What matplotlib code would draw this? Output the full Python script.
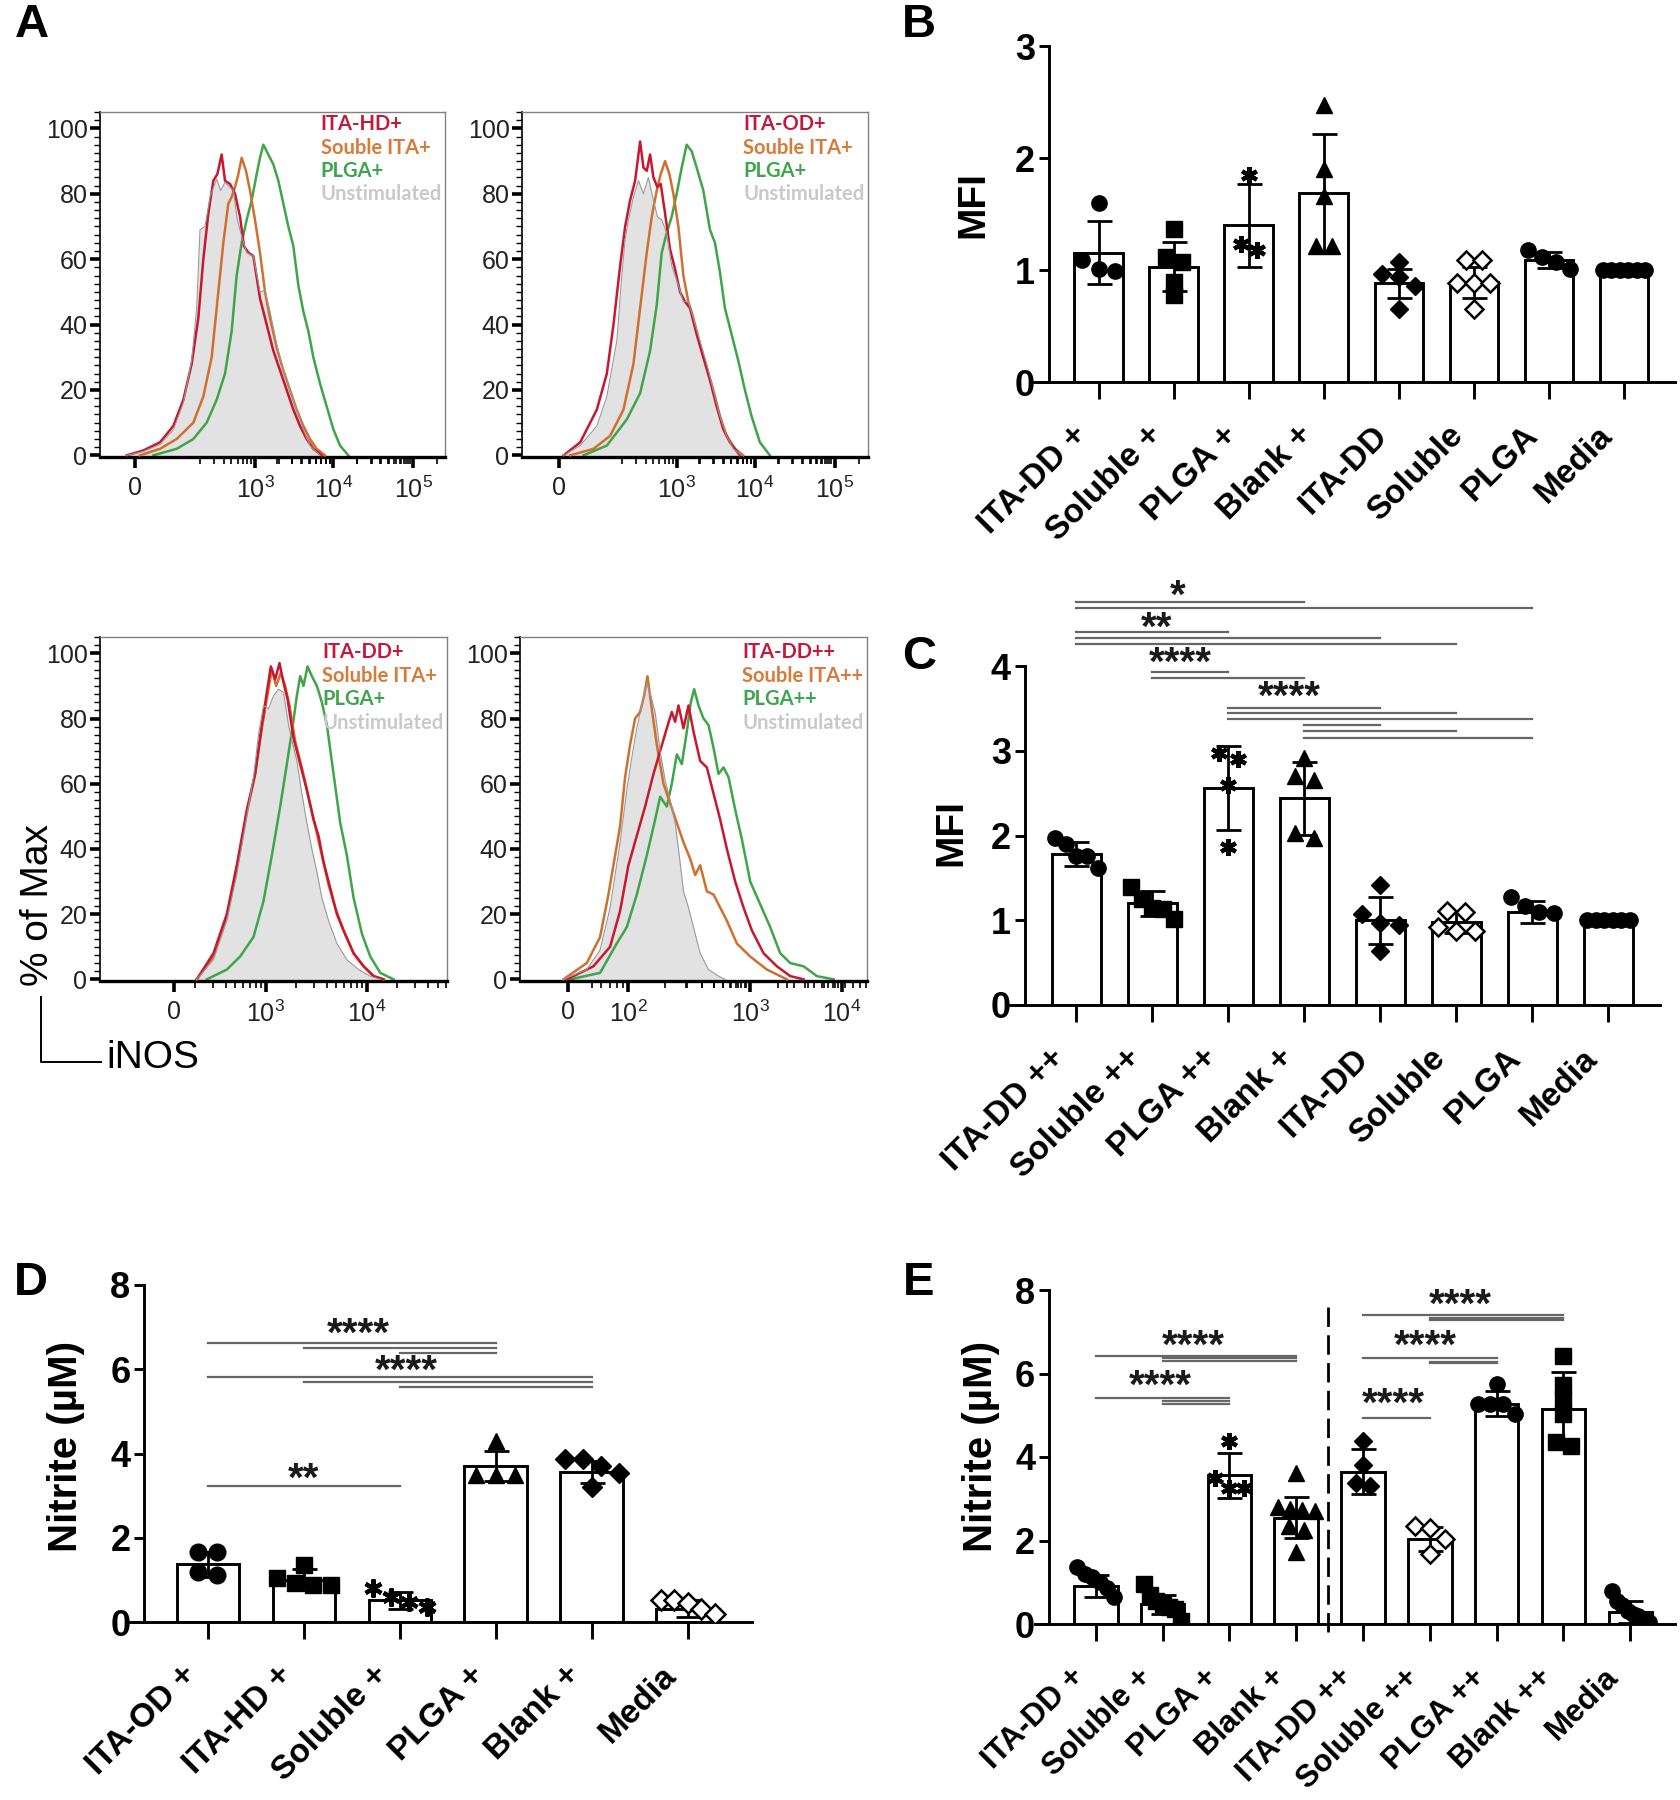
import numpy as np
import matplotlib
matplotlib.use('Agg')
import matplotlib.pyplot as plt
from matplotlib.lines import Line2D
from matplotlib.ticker import FixedLocator, MultipleLocator
from matplotlib.transforms import ScaledTranslation

plt.rcParams['font.family'] = ['Liberation Sans', 'DejaVu Sans']
plt.rcParams['mathtext.fontset'] = 'custom'
plt.rcParams['mathtext.rm'] = 'Liberation Sans'
plt.rcParams['mathtext.it'] = 'Liberation Sans:italic'
plt.rcParams['mathtext.bf'] = 'Liberation Sans:bold'

# ---------------- Panel A : iNOS histograms (x = display channel, y = % of max)
a1_labels = ['ITA-HD+', 'Souble ITA+', 'PLGA+', 'Unstimulated']
a1_ticks = [405, 765, 1000, 1240]
a1_ticklabels = ['0', '$10^3$', '$10^4$', '$10^5$']
a1_ita_ch = [380, 430, 480, 520, 550, 575, 595, 610, 625, 640, 652, 665, 675, 690, 705, 720, 732, 745, 760, 780, 800, 820, 840, 860, 880, 900, 920, 940, 965]
a1_ita_pct = [0, 1.5, 4, 9, 17, 28, 42, 60, 74, 84, 86, 92, 84, 83, 80, 73, 64, 62, 61, 48, 40, 32, 26, 20, 14, 9, 5, 2, 0]
a1_sol_ch = [420, 480, 530, 580, 610, 635, 655, 670, 685, 695, 705, 715, 725, 738, 750, 765, 780, 795, 810, 830, 850, 870, 890, 910, 930, 950, 975]
a1_sol_pct = [0, 2, 5, 10, 18, 30, 50, 65, 77, 79, 82, 86, 91, 87, 81, 72, 62, 50, 42, 33, 26, 20, 14, 9, 5, 2, 0]
a1_plga_ch = [460, 530, 580, 620, 650, 675, 695, 710, 725, 740, 755, 770, 780, 790, 805, 820, 835, 850, 865, 880, 895, 910, 925, 940, 960, 980, 1000, 1020, 1045]
a1_plga_pct = [0, 2, 5, 10, 17, 25, 38, 55, 65, 72, 78, 86, 91, 95, 92, 89, 84, 77, 70, 64, 52, 44, 38, 30, 22, 15, 8, 3, 0]
a1_unst_ch = [380, 430, 480, 520, 550, 575, 590, 600, 615, 630, 650, 662, 675, 690, 700, 712, 725, 740, 760, 780, 795, 810, 830, 850, 870, 890, 910, 930, 960]
a1_unst_pct = [0, 1.2, 3.3, 7.8, 16, 29, 45, 69, 70, 79, 84.5, 81, 83.5, 82, 81, 72, 67, 62, 61, 50, 50.5, 44, 34, 26, 20, 14, 8, 3, 0]

a2_labels = ['ITA-OD+', 'Souble ITA+', 'PLGA+', 'Unstimulated']
a2_ticks = [415, 770, 1005, 1245]
a2_ticklabels = ['0', '$10^3$', '$10^4$', '$10^5$']
a2_ita_ch = [430, 480, 530, 560, 580, 600, 615, 630, 645, 660, 670, 680, 690, 700, 712, 722, 735, 750, 765, 780, 795, 810, 830, 850, 870, 890, 910, 930, 960]
a2_ita_pct = [0, 4, 14, 25, 40, 58, 70, 78, 84, 96, 88, 87, 92, 85, 82, 83, 74, 63, 57, 50, 47, 45, 37, 30, 23, 15, 8, 4, 0]
a2_sol_ch = [450, 520, 570, 610, 640, 660, 680, 695, 710, 722, 735, 748, 760, 775, 790, 805, 820, 840, 860, 880, 900, 920, 945, 970]
a2_sol_pct = [0, 2, 6, 14, 28, 45, 62, 73, 81, 86, 90, 86, 80, 70, 55, 47, 42, 34, 27, 20, 12, 6, 2, 0]
a2_plga_ch = [490, 560, 620, 660, 690, 710, 725, 740, 755, 770, 785, 800, 815, 830, 850, 870, 885, 900, 915, 935, 955, 975, 995, 1020, 1050]
a2_plga_pct = [0, 3, 11, 19, 32, 46, 62, 68, 73, 80, 88, 95, 93, 88, 81, 69, 65, 56, 45, 37, 29, 20, 12, 4, 0]
a2_unst_ch = [430, 480, 530, 560, 590, 605, 615, 625, 640, 655, 670, 685, 700, 712, 725, 740, 755, 775, 790, 805, 820, 840, 860, 880, 900, 920, 940, 965]
a2_unst_pct = [0, 3, 9, 18, 35, 55, 66, 72, 79, 84, 80, 85, 78, 73, 72, 68, 58, 52, 47, 47, 42, 35, 28, 20, 12, 6, 2, 0]

a3_labels = ['ITA-DD+', 'Soluble ITA+', 'PLGA+', 'Unstimulated']
a3_ticks = [522, 797, 1100]
a3_ticklabels = ['0', '$10^3$', '$10^4$']
a3_ita_ch = [590, 640, 680, 710, 740, 765, 785, 800, 812, 825, 838, 850, 862, 880, 900, 920, 940, 955, 970, 990, 1010, 1030, 1060, 1090, 1120, 1150]
a3_ita_pct = [0, 8, 20, 35, 52, 63, 78, 88, 96, 92, 97, 91, 86, 74, 66, 58, 49, 44, 36, 28, 20, 15, 8, 4, 1, 0]
a3_sol_ch = [590, 640, 680, 710, 740, 765, 785, 800, 815, 828, 842, 855, 868, 885, 905, 925, 945, 965, 985, 1005, 1030, 1060, 1090, 1120, 1150]
a3_sol_pct = [0, 7, 19, 34, 51, 63, 77, 86, 95, 90, 94, 90, 84, 73, 65, 56, 47, 38, 29, 22, 15, 8, 4, 1, 0]
a3_plga_ch = [620, 680, 720, 760, 790, 815, 840, 860, 878, 890, 900, 910, 922, 935, 950, 965, 980, 1000, 1020, 1040, 1060, 1085, 1110, 1140, 1180]
a3_plga_pct = [0, 3, 7, 13, 24, 38, 53, 66, 78, 87, 93, 90, 96, 93, 90, 85, 78, 63, 48, 38, 25, 14, 7, 2, 0]
a3_unst_ch = [590, 640, 680, 710, 740, 760, 775, 790, 805, 820, 835, 850, 865, 878, 890, 905, 920, 935, 950, 965, 985, 1010, 1040, 1075, 1110, 1140]
a3_unst_pct = [0, 6, 18, 32, 50, 62, 75, 84, 83, 87, 89, 88, 78, 72, 67, 57, 48, 40, 33, 25, 18, 11, 6, 3, 1, 0]

a4_labels = ['ITA-DD++', 'Souble ITA++', 'PLGA++', 'Unstimulated']
a4_ticks = [445, 625, 990, 1265]
a4_ticklabels = ['0', '$10^2$', '$10^3$', '$10^4$']
a4_ita_ch = [440, 520, 570, 600, 625, 650, 675, 700, 720, 740, 755, 765, 775, 790, 805, 820, 840, 860, 880, 900, 920, 945, 970, 995, 1030, 1070, 1110, 1150]
a4_ita_pct = [0, 4, 10, 21, 35, 44, 53, 63, 70, 77, 82, 79, 84, 77, 84, 76, 67, 65, 57, 49, 40, 30, 22, 15, 8, 4, 1, 0]
a4_sol_ch = [430, 500, 540, 565, 585, 600, 615, 630, 645, 660, 672, 682, 695, 710, 730, 750, 770, 790, 810, 825, 840, 860, 880, 900, 920, 950, 990, 1040, 1100]
a4_sol_pct = [0, 5, 13, 26, 38, 47, 62, 72, 80, 82, 87, 93, 83, 72, 60, 54, 48, 42, 37, 32, 35, 27, 26, 22, 18, 11, 7, 3, 0]
a4_plga_ch = [450, 540, 590, 620, 650, 680, 705, 720, 740, 755, 770, 785, 800, 812, 822, 835, 850, 865, 880, 895, 910, 925, 945, 965, 990, 1020, 1050, 1080, 1110, 1150, 1190, 1240]
a4_plga_pct = [0, 2, 11, 16, 26, 38, 49, 56, 53, 60, 69, 66, 76, 85, 89, 84, 80, 78, 71, 63, 65, 62, 52, 43, 30, 23, 16, 8, 5, 4, 1, 0]
a4_unst_ch = [430, 500, 540, 570, 600, 620, 635, 650, 665, 680, 692, 705, 720, 735, 750, 765, 775, 790, 805, 820, 840, 865, 895, 915]
a4_unst_pct = [0, 3, 9, 22, 42, 58, 68, 77, 84, 91, 87, 82, 70, 61, 55, 48, 40, 27, 22, 16, 8, 3, 1, 0]

# ---------------- Panel B : MFI
b_labels = ['ITA-DD +', 'Soluble +', 'PLGA +', 'Blank +', 'ITA-DD', 'Soluble', 'PLGA', 'Media']
b_mean = [1.155, 1.03, 1.40, 1.685, 0.88, 0.89, 1.09, 1.0]
b_sd = [0.28, 0.22, 0.37, 0.53, 0.13, 0.14, 0.07, 0.0]
b_points = [
    [1.60, 1.085, 1.005, 0.99],
    [1.37, 1.12, 1.07, 0.89, 0.78],
    [1.85, 1.23, 1.18],
    [2.47, 1.90, 1.66, 1.21, 1.21],
    [1.07, 0.96, 0.94, 0.86, 0.65],
    [1.085, 1.085, 0.88, 0.88, 0.88, 0.655],
    [1.18, 1.12, 1.07, 1.005],
    [1.0, 1.0, 1.0, 1.0, 1.0, 1.0],
]
b_markers = ['o', 's', 'ast', '^', 'D', 'Dopen', 'o', 'o']

# ---------------- Panel C : MFI
c_labels = ['ITA-DD ++', 'Soluble ++', 'PLGA ++', 'Blank +', 'ITA-DD', 'Soluble', 'PLGA', 'Media']
c_mean = [1.78, 1.20, 2.56, 2.44, 1.0, 0.975, 1.10, 1.0]
c_sd = [0.14, 0.15, 0.50, 0.43, 0.28, 0.125, 0.13, 0.0]
c_points = [
    [1.965, 1.90, 1.76, 1.755, 1.62],
    [1.39, 1.25, 1.14, 1.13, 1.01],
    [2.97, 2.90, 2.59, 1.87],
    [2.92, 2.70, 2.66, 2.03, 1.965],
    [1.42, 1.07, 0.97, 0.94, 0.64],
    [1.11, 1.10, 0.92, 0.87, 0.87],
    [1.27, 1.17, 1.10, 1.09],
    [1.0, 1.0, 1.0, 1.0, 1.0, 1.0],
]
c_markers = ['o', 's', 'ast', '^', 'D', 'Dopen', 'o', 'o']
# (group from, group to, height)
c_sig = [(0, 3, 4.76), (0, 6, 4.68), (0, 2, 4.40), (0, 4, 4.33), (0, 5, 4.26),
         (1, 2, 3.93), (1, 3, 3.86), (2, 4, 3.51), (2, 5, 3.44), (2, 6, 3.37),
         (3, 4, 3.30), (3, 5, 3.23), (3, 6, 3.15)]
c_stars = [(1.33, 4.87, '*'), (1.05, 4.50, '**'), (1.37, 4.08, '****'), (2.80, 3.68, '****')]

# ---------------- Panel D : nitrite
d_labels = ['ITA-OD +', 'ITA-HD +', 'Soluble +', 'PLGA +', 'Blank +', 'Media']
d_mean = [1.37, 1.0, 0.52, 3.70, 3.56, 0.32]
d_sd = [0.29, 0.25, 0.20, 0.35, 0.26, 0.20]
d_points = [
    [1.66, 1.66, 1.18, 1.125],
    [1.35, 1.045, 0.93, 0.88, 0.88],
    [0.80, 0.60, 0.48, 0.36],
    [4.30, 3.50, 3.50, 3.50],
    [3.88, 3.88, 3.71, 3.54, 3.215],
    [0.53, 0.53, 0.45, 0.32, 0.20],
]
d_markers = ['o', 's', 'ast', '^', 'D', 'Dopen']
d_sig = [(0, 3, 6.63), (1, 3, 6.51), (2, 3, 6.39),
         (0, 4, 5.82), (1, 4, 5.70), (2, 4, 5.59), (0, 2, 3.23)]
d_stars = [(1.57, 6.93, '****'), (2.07, 6.06, '****'), (1.0, 3.50, '**')]

# ---------------- Panel E : nitrite
e_labels = ['ITA-DD +', 'Soluble +', 'PLGA +', 'Blank +', 'ITA-DD ++', 'Soluble ++', 'PLGA ++', 'Blank ++', 'Media']
e_mean = [0.91, 0.47, 3.56, 2.55, 3.65, 2.04, 5.28, 5.16, 0.29]
e_sd = [0.27, 0.22, 0.54, 0.49, 0.53, 0.29, 0.30, 0.87, 0.26]
e_points = [
    [1.36, 1.20, 1.12, 1.00, 0.87, 0.65],
    [0.95, 0.70, 0.55, 0.47, 0.40, 0.35, 0.08],
    [4.39, 3.50, 3.26, 3.26],
    [3.62, 2.80, 2.75, 2.72, 2.70, 2.35, 2.25, 1.72],
    [4.39, 3.80, 3.38, 3.30],
    [2.35, 2.29, 2.04, 1.68],
    [5.76, 5.28, 5.28, 5.28, 5.03],
    [6.41, 5.72, 5.40, 5.03, 4.35, 4.27],
    [0.79, 0.55, 0.45, 0.30, 0.25, 0.20, 0.10, 0.05],
]
e_markers = ['o', 's', 'ast', '^', 'D', 'Dopen', 'o', 's', 'o']
e_sig = [(0, 3, 6.42), (1, 3, 6.36), (1, 3, 6.31),
         (0, 2, 5.41), (1, 2, 5.33), (1, 2, 5.28),
         (4, 7, 7.39), (5, 7, 7.32), (5, 7, 7.28),
         (4, 6, 6.36), (5, 6, 6.28), (5, 6, 6.24),
         (4, 5, 4.94)]
e_stars = [(1.46, 6.76, '****'), (0.96, 5.80, '****'),
           (5.45, 7.75, '****'), (4.94, 6.76, '****'), (4.45, 5.37, '****')]
e_divider = 3.48

RED, ORANGE, GREEN = '#c8182f', '#d0702e', '#3fa548'
LEG_COLORS = ['#c4173b', '#d77a3a', '#3ea54b', '#c9c9c9']

W, H = 1680, 1800
fig = plt.figure(figsize=(W / 100, H / 100), dpi=100)


def px_rect(left, top, right, bottom):
    return [left / W, 1 - bottom / H, (right - left) / W, (bottom - top) / H]


def log_minors(ticks, lo, hi):
    # minor ticks of the log decades between the "10^k" ticks
    dec = [t for t in ticks[1:]]
    out = []
    for p, q in zip(dec[:-1], dec[1:]):
        w = q - p
        for base in (p - w, p, q):
            for m in range(2, 10):
                v = base + w * np.log10(m)
                if lo < v < hi and v > ticks[0] + 40:
                    out.append(v)
    return sorted(set(out))


def hist_panel(rect, xlim, ticks, ticklabels, ita, sol, plga, unst, labels, leg_y):
    ax = fig.add_axes(px_rect(*rect))
    ax.fill_between(unst[0], unst[1], color='#e2e2e2', lw=0, zorder=1)
    ax.plot(plga[0], plga[1], color=GREEN, lw=1.8, zorder=2)
    ax.plot(sol[0], sol[1], color=ORANGE, lw=1.8, zorder=3)
    ax.plot(ita[0], ita[1], color=RED, lw=1.8, zorder=4)
    ax.plot(unst[0], unst[1], color='#9a9a9a', lw=0.8, zorder=5)
    ax.set_xlim(xlim)
    ax.set_ylim(-0.5, 105)
    ax.set_yticks([0, 20, 40, 60, 80, 100])
    ax.yaxis.set_minor_locator(MultipleLocator(2.5))
    ax.xaxis.set_major_locator(FixedLocator(ticks))
    ax.set_xticklabels(ticklabels)
    ax.xaxis.set_minor_locator(FixedLocator(log_minors(ticks, xlim[0], xlim[1])))
    ax.tick_params(axis='y', which='major', length=7, width=2.6, labelsize=18, pad=2,
                   labelcolor='#222222')
    ax.tick_params(axis='y', which='minor', length=4, width=1.0)
    ax.tick_params(axis='x', which='major', length=8, width=2.6, labelsize=18, pad=6,
                   labelcolor='#222222')
    ax.tick_params(axis='x', which='minor', length=5, width=1.2)
    for s in ('top', 'right'):
        ax.spines[s].set_color('#808080')
        ax.spines[s].set_linewidth(1.0)
    ax.spines['left'].set_linewidth(1.2)
    ax.spines['bottom'].set_linewidth(2.4)
    for k, (lab, col) in enumerate(zip(labels, LEG_COLORS)):
        ax.text(0.64, leg_y - k * 0.068, lab, transform=ax.transAxes, color=col,
                fontsize=14.5, fontweight='bold', family=['Lato', 'DejaVu Sans'],
                ha='left', va='center')
    return ax


hist_panel((100, 112, 445, 457), (300, 1335), a1_ticks, a1_ticklabels,
           (a1_ita_ch, a1_ita_pct), (a1_sol_ch, a1_sol_pct), (a1_plga_ch, a1_plga_pct),
           (a1_unst_ch, a1_unst_pct), a1_labels, 0.965)
hist_panel((522, 112, 868, 457), (305, 1345), a2_ticks, a2_ticklabels,
           (a2_ita_ch, a2_ita_pct), (a2_sol_ch, a2_sol_pct), (a2_plga_ch, a2_plga_pct),
           (a2_unst_ch, a2_unst_pct), a2_labels, 0.965)
hist_panel((100, 637, 447, 981), (300, 1340), a3_ticks, a3_ticklabels,
           (a3_ita_ch, a3_ita_pct), (a3_sol_ch, a3_sol_pct), (a3_plga_ch, a3_plga_pct),
           (a3_unst_ch, a3_unst_pct), a3_labels, 0.955)
hist_panel((520, 637, 867, 981), (300, 1340), a4_ticks, a4_ticklabels,
           (a4_ita_ch, a4_ita_pct), (a4_sol_ch, a4_sol_pct), (a4_plga_ch, a4_plga_pct),
           (a4_unst_ch, a4_unst_pct), a4_labels, 0.955)

fig.text(38 / W, 1 - 905 / H, '% of Max', rotation=90, fontsize=28, ha='center', va='center')
fig.text(106 / W, 1 - 1058 / H, 'iNOS', fontsize=28, ha='left', va='center')
fig.add_artist(Line2D([41 / W, 41 / W, 101 / W], [1 - 997 / H, 1 - 1062 / H, 1 - 1062 / H],
                      color='black', lw=1.4))


def spread(vals, tol, dx, half=0.28):
    # horizontal scatter of overlapping points, like a column scatter plot
    vals = np.asarray(vals, float)
    order = np.argsort(-vals)
    offs = np.zeros(len(vals))
    groups, cur = [], [order[0]]
    for a, b in zip(order[:-1], order[1:]):
        if vals[a] - vals[b] <= tol:
            cur.append(b)
        else:
            groups.append(cur)
            cur = [b]
    groups.append(cur)
    for g in groups:
        k = len(g)
        d = dx if k < 2 or (k - 1) * dx / 2 <= half else 2 * half / (k - 1)
        for n, idx in enumerate(g):
            offs[idx] = (n - (k - 1) / 2) * d
    return offs


def draw_points(ax, xs, ys, m, ms):
    if m == 'ast':
        ax.plot(xs, ys, ls='none', marker=(6, 2, 0), ms=ms + 1, mew=3.0, color='black', zorder=5)
    elif m == 'Dopen':
        ax.plot(xs, ys, ls='none', marker='D', ms=ms * 0.85, mfc='white', mec='black', mew=1.8, zorder=5)
    elif m == 'D':
        ax.plot(xs, ys, ls='none', marker='D', ms=ms * 0.85, color='black', zorder=5)
    else:
        ax.plot(xs, ys, ls='none', marker=m, ms=ms, color='black', zorder=5)


def bar_panel(rect, xlim, spine_x, labels, means, sds, points, markers, ylim, yticks, tol, dx, ms,
              label_size=24):
    ax = fig.add_axes(px_rect(*rect))
    ax.patch.set_alpha(0)
    x = np.arange(len(labels))
    ax.bar(x, means, width=0.65, color='white', edgecolor='black', linewidth=2.1, zorder=2)
    for i in x:
        if sds[i] > 0:
            ax.errorbar(i, means[i], yerr=sds[i], fmt='none', ecolor='black',
                        elinewidth=2.0, capsize=9, capthick=2.0, zorder=4)
        offs = spread(points[i], tol, dx)
        draw_points(ax, i + offs, points[i], markers[i], ms)
    ax.set_xlim(xlim)
    ax.set_ylim(ylim)
    ax.spines['left'].set_position(('data', spine_x))
    for s in ('top', 'right'):
        ax.spines[s].set_visible(False)
    for s in ('left', 'bottom'):
        ax.spines[s].set_linewidth(2.1)
    ax.set_xticks(x)
    ax.set_yticks(yticks)
    ax.set_yticklabels([str(t) for t in yticks], fontsize=26, fontweight='bold')
    ax.tick_params(axis='x', length=12, width=2.1, pad=10)
    ax.tick_params(axis='y', length=7, width=2.1, pad=3)
    ax.set_xticklabels(labels, rotation=45, ha='right', va='center', rotation_mode='anchor',
                       fontsize=label_size, fontweight='bold')
    # GraphPad puts the slanted labels a little lower and to the left of the tick
    shift = ScaledTranslation(-0.16, -0.18, fig.dpi_scale_trans)
    for lab in ax.get_xticklabels():
        lab.set_transform(lab.get_transform() + shift)
    return ax


def sig(ax, lines, stars):
    for i, j, y in lines:
        ax.plot([i, j], [y, y], color='#666666', lw=1.6, clip_on=False, zorder=6)
    for xs, ys, s in stars:
        ax.text(xs, ys, s, ha='center', va='center', fontsize=29, fontweight='bold',
                color='#1a1a1a', clip_on=False,
                transform=ax.transData + ScaledTranslation(0, -0.05, fig.dpi_scale_trans))


bar_panel((1032, 46, 1675, 382), (-0.89, 7.68), -0.667, b_labels, b_mean, b_sd, b_points,
          b_markers, (0, 3), [0, 1, 2, 3], 0.105, 0.22, 11)
axc = bar_panel((1010, 666, 1660, 1005), (-0.875, 7.68), -0.678, c_labels, c_mean, c_sd, c_points,
                c_markers, (0, 4), [0, 1, 2, 3, 4], 0.14, 0.24, 11)
sig(axc, c_sig, c_stars)
axd = bar_panel((129, 1285, 752, 1622), (-0.82, 5.67), -0.66, d_labels, d_mean, d_sd, d_points,
                d_markers, (0, 8), [0, 2, 4, 6, 8], 0.28, 0.2, 12)
sig(axd, d_sig, d_stars)
axe = bar_panel((1035, 1290, 1675, 1624), (-0.91, 8.67), -0.70, e_labels, e_mean, e_sd, e_points,
                e_markers, (0, 8), [0, 2, 4, 6, 8], 0.28, 0.22, 11, label_size=22.5)
sig(axe, e_sig, e_stars)
axe.plot([e_divider, e_divider], [-0.18, 7.68], color='black', lw=2, ls=(0, (7, 3)), clip_on=False, zorder=6)

fig.text(973 / W, 1 - 205 / H, 'MFI', rotation=90, fontsize=28, fontweight='bold', ha='center', va='center')
fig.text(951 / W, 1 - 833 / H, 'MFI', rotation=90, fontsize=28, fontweight='bold', ha='center', va='center')
fig.text(66 / W, 1 - 1446 / H, 'Nitrite (µM)', rotation=90, fontsize=29, fontweight='bold', ha='center', va='center')
fig.text(981 / W, 1 - 1446 / H, 'Nitrite (µM)', rotation=90, fontsize=29, fontweight='bold', ha='center', va='center')

for letter, (lx, ly) in zip('ABCDE', [(32, 25), (919, 25), (919, 657), (31, 1283), (919, 1283)]):
    fig.text(lx / W, 1 - ly / H, letter, fontsize=34, fontweight='bold', ha='center', va='center')

fig.savefig('out.png', dpi=100)
